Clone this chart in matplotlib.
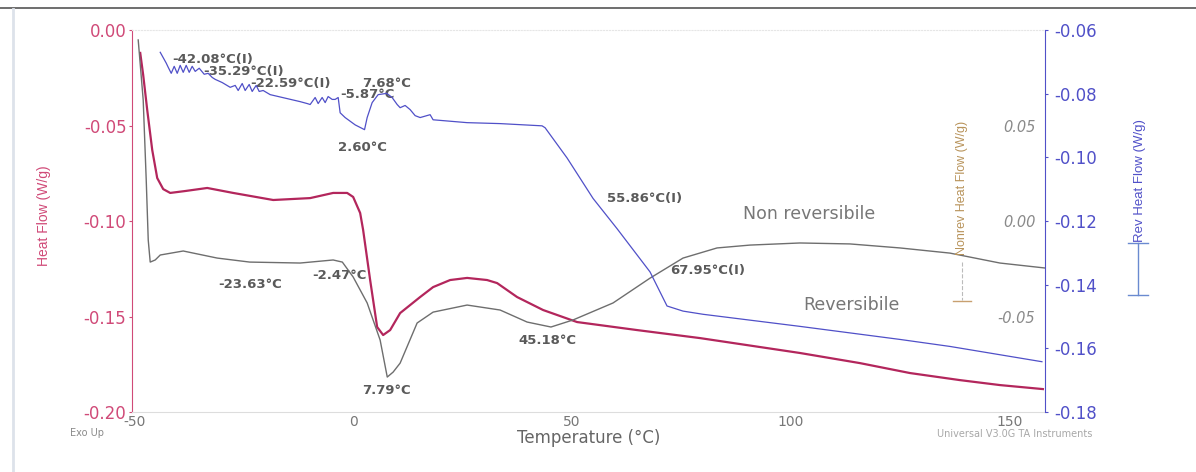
import matplotlib
matplotlib.use("Agg")
import matplotlib.pyplot as plt
from matplotlib.lines import Line2D

plt.rcParams['axes.unicode_minus'] = False
plt.rcParams['font.family'] = ['DejaVu Sans']

# Total heat flow (W/g) vs temperature (°C)
hf_temp = [-48.63, -47.95, -47.03, -45.89, -44.75, -43.38, -41.78, -38.36, -33.33, -27.40,
           -18.26, -9.82, -4.57, -1.37, 0.0, 1.60, 2.28, 3.88, 5.48, 6.85, 8.45, 10.73,
           15.30, 18.26, 22.15, 26.03, 30.59, 32.88, 37.44, 43.38, 51.14, 64.84, 79.22,
           102.05, 115.75, 127.17, 138.58, 147.72, 157.53]
hf_val = [-0.0120, -0.0236, -0.0419, -0.0628, -0.0775, -0.0833, -0.0853, -0.0843, -0.0827, -0.0853,
          -0.0890, -0.0880, -0.0853, -0.0853, -0.0874, -0.0958, -0.1047, -0.1309, -0.1555, -0.1597,
          -0.1571, -0.1482, -0.1398, -0.1346, -0.1309, -0.1298, -0.1309, -0.1325, -0.1398, -0.1466,
          -0.1529, -0.1571, -0.1613, -0.1691, -0.1744, -0.1796, -0.1833, -0.1859, -0.1880]

# Non-reversing heat flow (W/g)
nr_temp = [-49.09, -47.95, -47.26, -46.80, -46.35, -45.21, -44.06, -38.81, -31.05, -23.63,
           -12.10, -4.57, -2.47, 0.0, 3.20, 6.16, 7.79, 9.13, 10.73, 14.61, 18.26, 26.03,
           33.56, 39.73, 45.18, 50.23, 59.36, 67.81, 75.34, 83.11, 90.64, 102.05, 113.47,
           124.89, 136.30, 147.72, 157.99]
nr_val = [0.0948, 0.0633, 0.0215, -0.0100, -0.0215, -0.0204, -0.0178, -0.0157, -0.0194, -0.0215,
          -0.0220, -0.0204, -0.0215, -0.0293, -0.0429, -0.0623, -0.0817, -0.0791, -0.0744, -0.0534,
          -0.0477, -0.0440, -0.0466, -0.0529, -0.0555, -0.0518, -0.0429, -0.0299, -0.0194, -0.0141,
          -0.0126, -0.0115, -0.0120, -0.0141, -0.0168, -0.0220, -0.0246]

# Reversing heat flow (W/g)
rev_temp = [-44.06, -42.69, -42.24, -41.55, -40.87, -40.18, -39.50, -38.81, -38.13, -37.44,
            -36.76, -36.07, -35.16, -34.02, -33.11, -32.19, -31.51, -29.91, -28.08, -26.94,
            -26.26, -25.34, -24.66, -23.74, -23.06, -22.15, -21.46, -20.55, -18.95, -12.10,
            -10.50, -9.82, -8.68, -7.99, -7.08, -6.39, -5.71, -4.79, -4.11, -3.42,
            -2.97, -1.83, 0.46, 2.60, 3.20, 4.34, 5.71, 7.68, 8.90, 10.05,
            10.73, 11.87, 13.01, 14.16, 15.30, 17.58, 18.26, 26.03, 33.56, 43.15,
            43.84, 48.86, 54.79, 60.27, 67.81, 71.69, 75.34, 79.91, 102.05, 124.89,
            136.30, 157.31]
rev_val = [-0.0670, -0.0704, -0.0717, -0.0736, -0.0714, -0.0736, -0.0711, -0.0733, -0.0711, -0.0733,
           -0.0714, -0.0730, -0.0720, -0.0739, -0.0736, -0.0749, -0.0755, -0.0765, -0.0780, -0.0774,
           -0.0790, -0.0768, -0.0790, -0.0771, -0.0793, -0.0774, -0.0793, -0.0790, -0.0803, -0.0825,
           -0.0831, -0.0834, -0.0812, -0.0831, -0.0812, -0.0828, -0.0809, -0.0818, -0.0818, -0.0812,
           -0.0860, -0.0875, -0.0898, -0.0913, -0.0875, -0.0828, -0.0803, -0.0799, -0.0812, -0.0834,
           -0.0844, -0.0837, -0.0850, -0.0869, -0.0875, -0.0866, -0.0882, -0.0891, -0.0894, -0.0901,
           -0.0907, -0.1002, -0.1129, -0.1224, -0.1360, -0.1467, -0.1483, -0.1493, -0.1531, -0.1572,
           -0.1594, -0.1642]

x_ticks = [-50, 0, 50, 100, 150]
hf_ticks = [0.0, -0.05, -0.10, -0.15, -0.20]
nr_ticks = [0.05, 0.0, -0.05]
rev_ticks = [-0.06, -0.08, -0.10, -0.12, -0.14, -0.16, -0.18]

# event labels: (text, temperature, heat flow position on left axis)
events = [
    ("-42.08°C(I)", -41.3, -0.0152),
    ("-35.29°C(I)", -34.2, -0.0215),
    ("-22.59°C(I)", -23.5, -0.0278),
    ("7.68°C", 2.05, -0.0278),
    ("-5.87°C", -2.97, -0.0340),
    ("2.60°C", -3.42, -0.0613),
    ("55.86°C(I)", 58.0, -0.0880),
    ("67.95°C(I)", 72.4, -0.1257),
    ("-23.63°C", -30.8, -0.1335),
    ("-2.47°C", -9.4, -0.1283),
    ("45.18°C", 37.7, -0.1628),
    ("7.79°C", 2.05, -0.1890),
]

RED = '#b3265c'
RED_TXT = '#d04a78'
BLUE = '#5050c8'
GRAY = '#6e6e6e'

fig = plt.figure(figsize=(11.96, 4.72), dpi=100)
ax = fig.add_axes([0.1104, 0.1271, 0.7633, 0.8093])
ax_nr = ax.twinx()
ax_rev = ax.twinx()

ax.plot(hf_temp, hf_val, color=RED, lw=1.6, zorder=3)
ax_nr.plot(nr_temp, nr_val, color=GRAY, lw=1.0)
ax_rev.plot(rev_temp, rev_val, color=BLUE, lw=0.9)

ax.set_xlim(-50.5, 158)
ax.set_ylim(-0.20, 0.0)
ax_nr.set_ylim(-0.10, 0.10)
ax_rev.set_ylim(-0.18, -0.06)

ax.set_xticks(x_ticks)
ax.set_xticklabels([str(t) for t in x_ticks])
ax.tick_params(axis='x', length=0, pad=2, labelcolor='#777777', labelsize=10)
ax.set_yticks(hf_ticks)
ax.set_yticklabels([f"{t:.2f}" for t in hf_ticks])
ax.tick_params(axis='y', colors=RED_TXT, labelsize=12, length=2, pad=2)

ax_nr.set_yticks(nr_ticks)
ax_nr.set_yticklabels([f"{t:.2f}" for t in nr_ticks], style='italic')
ax_nr.tick_params(axis='y', length=0, pad=-7, labelcolor='#8a8a8a', labelsize=10.5)
for lab in ax_nr.get_yticklabels():
    lab.set_horizontalalignment('right')

ax_rev.set_yticks(rev_ticks)
ax_rev.set_yticklabels([f"{t:.2f}" for t in rev_ticks])
ax_rev.tick_params(axis='y', colors=BLUE, labelsize=12, length=2, pad=5)

for a in (ax, ax_nr, ax_rev):
    for s in a.spines.values():
        s.set_visible(False)
ax.spines['left'].set_visible(True)
ax.spines['left'].set_color(RED_TXT)
ax.spines['bottom'].set_visible(True)
ax.spines['bottom'].set_color('#dddddd')
ax.spines['top'].set_visible(True)
ax.spines['top'].set_color('#e6e6e6')
ax.spines['top'].set_linestyle(':')
ax_rev.spines['right'].set_visible(True)
ax_rev.spines['right'].set_color(BLUE)

for txt, t, v in events:
    ax.text(t, v, txt, fontsize=9.5, fontweight='bold', color='#5a5a5a',
            ha='left', va='center', zorder=5)
ax.text(89.0, -0.0963, "Non reversibile", fontsize=12.5, color='#777777', ha='left', va='center')
ax.text(102.7, -0.1440, "Reversibile", fontsize=12.5, color='#777777', ha='left', va='center')

ax.set_xlabel("Temperature (°C)", fontsize=12, color='#666666', labelpad=0)

fig.text(0.0368, 0.5424, "Heat Flow (W/g)", rotation=90, color=RED_TXT,
         fontsize=10, family='Liberation Sans', ha='center', va='center')
fig.text(0.8043, 0.602, "Nonrev Heat Flow (W/g)", rotation=90, color='#b8935a',
         fontsize=9, family='Liberation Sans', ha='center', va='center')
fig.text(0.953, 0.617, "Rev Heat Flow (W/g)", rotation=90, color=BLUE,
         fontsize=9.5, family='Liberation Sans', ha='center', va='center')
fig.text(0.0585, 0.083, "Exo Up", fontsize=7, color='#8a8a8a', ha='left', va='center')
fig.text(0.7835, 0.081, "Universal V3.0G TA Instruments", fontsize=7, color='#a8a8a8',
         ha='left', va='center')

# small series keys below the secondary axis titles
fig.add_artist(Line2D([0.8043, 0.8043], [0.445, 0.365], transform=fig.transFigure,
                      color='#bbbbbb', lw=0.8, ls='--'))
fig.add_artist(Line2D([0.797, 0.812], [0.362, 0.362], transform=fig.transFigure,
                      color='#c8a070', lw=1.0))
fig.add_artist(Line2D([0.9515, 0.9515], [0.485, 0.375], transform=fig.transFigure,
                      color='#6a8ad0', lw=1.0))
fig.add_artist(Line2D([0.943, 0.960], [0.485, 0.485], transform=fig.transFigure,
                      color='#6a8ad0', lw=1.0))
fig.add_artist(Line2D([0.943, 0.960], [0.375, 0.375], transform=fig.transFigure,
                      color='#6a8ad0', lw=1.0))

# page edges
fig.add_artist(Line2D([0, 1], [0.983, 0.983], transform=fig.transFigure, color='#555555', lw=1.2))
fig.add_artist(Line2D([0.011, 0.011], [0.0, 0.98], transform=fig.transFigure, color='#dde2ea', lw=2))

fig.savefig("out.png", dpi=100)
